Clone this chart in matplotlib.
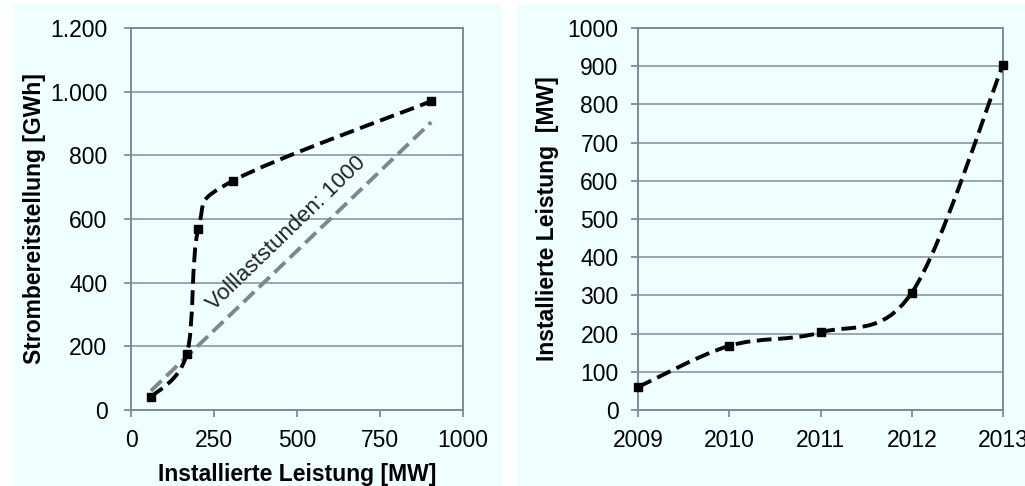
import numpy as np
import matplotlib
matplotlib.use("Agg")
import matplotlib.pyplot as plt
from matplotlib.path import Path
from matplotlib.patches import PathPatch, Rectangle
from matplotlib.ticker import FuncFormatter

plt.rcParams['font.family'] = ['Liberation Sans', 'DejaVu Sans']

# data
years = [2009, 2010, 2011, 2012, 2013]
leistung = [60, 168, 203, 307, 904]          # MW
strom = [40, 175, 570, 720, 970]              # GWh
volllast_y = [60, 168, 203, 307, 904]         # 1000 Volllaststunden -> GWh

bg = '#EFFFFF'
axcol = '#7D8A99'
gridcol = '#8B97A5'


def smooth_path(xs, ys):
    # Excel-like smoothed line as cubic bezier through the points
    p = np.column_stack([xs, ys]).astype(float)
    ext = np.vstack([p[0], p, p[-1]])
    verts = [p[0]]
    codes = [Path.MOVETO]
    for i in range(len(p) - 1):
        c1 = ext[i + 1] + (ext[i + 2] - ext[i]) / 6
        c2 = ext[i + 2] - (ext[i + 3] - ext[i + 1]) / 6
        verts += [c1, c2, p[i + 1]]
        codes += [Path.CURVE4] * 3
    return Path(verts, codes)


def style_axes(ax):
    ax.set_facecolor(bg)
    for s in ax.spines.values():
        s.set_color(axcol)
        s.set_linewidth(1.4)
    ax.yaxis.grid(True, color=gridcol, linewidth=1.2)
    ax.set_axisbelow(True)
    ax.tick_params(colors=axcol, labelcolor='black', labelsize=16.5, length=5, width=1.3)
    ax.tick_params(axis='x', pad=9)


fig = plt.figure(figsize=(10.25, 4.86), dpi=100)
fig.patches.append(Rectangle((14 / 1025, 0), 488 / 1025, 482 / 486, transform=fig.transFigure,
                             facecolor=bg, edgecolor='none', zorder=-10))
fig.patches.append(Rectangle((517 / 1025, 0), 508 / 1025, 482 / 486, transform=fig.transFigure,
                             facecolor=bg, edgecolor='none', zorder=-10))

dash = (0, (3.8, 1.7))
lw = 2.8

# left chart
ax1 = fig.add_axes([131 / 1025, 1 - 410 / 486, 332 / 1025, 382 / 486])
style_axes(ax1)
ax1.tick_params(axis='y', pad=12)
ax1.plot([leistung[0], leistung[-1]], [volllast_y[0], volllast_y[-1]], color='#7F8690',
         lw=lw, linestyle=dash, zorder=2)
ax1.add_patch(PathPatch(smooth_path(leistung, strom), facecolor='none', edgecolor='black',
                        lw=lw, linestyle=dash, zorder=3))
ax1.plot(leistung, strom, 's', color='black', ms=6, zorder=4)
ax1.set_xlim(0, 1000)
ax1.set_ylim(0, 1200)
ax1.set_xticks([0, 250, 500, 750, 1000])
ax1.set_yticks(range(0, 1201, 200))
ax1.yaxis.set_major_formatter(FuncFormatter(lambda v, p: f"{int(v):,}".replace(',', '.')))
ax1.set_xlabel('Installierte Leistung [MW]', fontsize=16.5, fontweight='bold')
ax1.set_ylabel('Strombereitstellung [GWh]', fontsize=16.5, fontweight='bold')
ax1.xaxis.set_label_coords(0.5, -0.138)
ax1.yaxis.set_label_coords(-0.256, 0.5)
ax1.text(468, 556, 'Volllaststunden: 1000', fontsize=16, rotation=44,
         rotation_mode='anchor', ha='center', va='center', color='#222222', zorder=5)

# right chart
ax2 = fig.add_axes([638 / 1025, 1 - 410 / 486, 365 / 1025, 382 / 486])
style_axes(ax2)
ax2.tick_params(axis='y', pad=9)
ax2.add_patch(PathPatch(smooth_path(years, leistung), facecolor='none', edgecolor='black',
                        lw=lw, linestyle=dash, zorder=3))
ax2.plot(years, leistung, 's', color='black', ms=6, zorder=4, clip_on=False)
ax2.set_xlim(2009, 2013)
ax2.set_ylim(0, 1000)
ax2.set_xticks(years)
ax2.set_yticks(range(0, 1001, 100))
ax2.set_ylabel('Installierte Leistung  [MW]', fontsize=16.5, fontweight='bold')
ax2.yaxis.set_label_coords(-0.216, 0.5)

fig.savefig('out.png', dpi=100)
